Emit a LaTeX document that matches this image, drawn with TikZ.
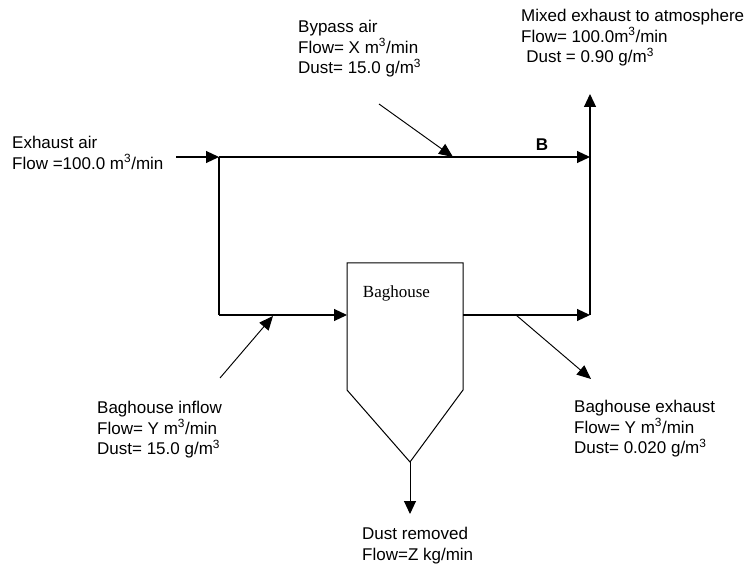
\documentclass[tikz,border=0pt]{standalone}
\usepackage{fontspec}
\setmainfont{Liberation Sans}
\newfontfamily\bagfont{Liberation Serif}
\usetikzlibrary{arrows.meta}
\begin{document}
\begin{tikzpicture}[x=1pt,y=-1pt,
  pipe/.style={line width=1.15pt, draw=black},
  flow/.style={pipe, -{Triangle[length=13pt,width=12pt]}},
  slant/.style={line width=0.95pt, draw=black, -{Triangle[length=14pt,width=12pt]}},
  lbl/.style={anchor=north west, inner sep=0pt, align=left, font=\fontsize{17}{20.5}\selectfont}]
\useasboundingbox (0,0) rectangle (749,569);
% junction coordinates
\coordinate (ein) at (176,157);
\coordinate (j1) at (219,157);
\coordinate (j2) at (219,315);
\coordinate (bin) at (347,315);
\coordinate (bout) at (463,315);
\coordinate (r1) at (590,157);
\coordinate (r2) at (590,315);
\coordinate (top) at (590,94);
\coordinate (bs) at (379,104);
\coordinate (bt) at (453,157);
\coordinate (is) at (220,378);
\coordinate (it) at (273,316);
\coordinate (xs) at (516,315);
\coordinate (xt) at (591,379);
\coordinate (apex) at (410,462);
\coordinate (dt) at (410,514);
% baghouse body
\draw[pipe, line width=1pt] (347,263) -- (463,263) -- (463,390) -- (apex) -- (347,390) -- cycle;
\node[font=\bagfont\fontsize{17}{20}\selectfont, inner sep=0pt] (bag) at (396.5,293) {Baghouse};
% pipes
\draw[flow] (ein) -- (j1);
\draw[flow] (j1) -- (r1);
\draw[pipe] (j1) -- (j2);
\draw[flow] (j2) -- (bin);
\draw[flow] (bout) -- (r2);
\draw[flow] (r2) -- (top);
\draw[slant] (bs) -- (bt);
\draw[slant] (is) -- (it);
\draw[slant] (xs) -- (xt);
\draw[flow, line width=1pt] (apex) -- (dt);
% labels
\node[font=\bfseries\fontsize{17}{20}\selectfont, inner sep=0pt] (B) at (542,144.5) {B};
\node[lbl] (bypass) at (298,20) {Bypass air\\Flow= X m\textsuperscript{3}/min\\Dust= 15.0 g/m\textsuperscript{3}};
\node[lbl] (mixed) at (521,9) {Mixed exhaust to atmosphere\\Flow= 100.0m\textsuperscript{3}/min\\\hspace{0.3em}Dust = 0.90 g/m\textsuperscript{3}};
\node[lbl] (exh) at (12,136) {Exhaust air\\Flow =100.0 m\textsuperscript{3}/min};
\node[lbl] (inflow) at (97,401) {Baghouse inflow\\Flow= Y m\textsuperscript{3}/min\\Dust= 15.0 g/m\textsuperscript{3}};
\node[lbl] (outflow) at (574,400) {Baghouse exhaust\\Flow= Y m\textsuperscript{3}/min\\Dust= 0.020 g/m\textsuperscript{3}};
\node[lbl] (dust) at (362,527) {Dust removed\\Flow=Z kg/min};
\end{tikzpicture}
\end{document}
